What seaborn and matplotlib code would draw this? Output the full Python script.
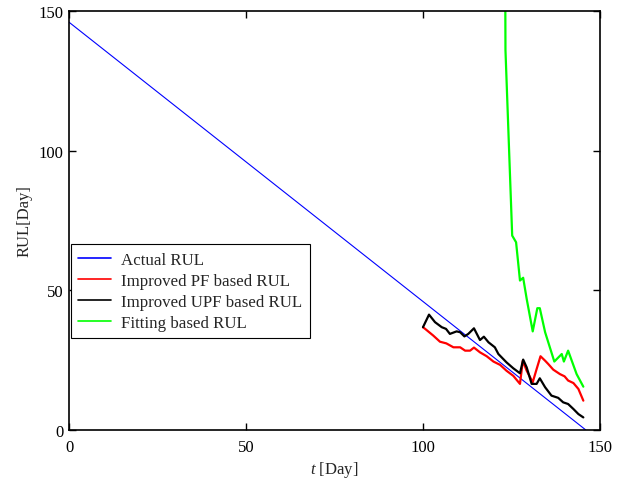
import numpy as np
import pandas as pd
import matplotlib
matplotlib.use('Agg')
import matplotlib.pyplot as plt
import seaborn as sns

sns.set_style('white')
plt.rcParams['font.family'] = ['Liberation Serif', 'DejaVu Serif']
plt.rcParams['mathtext.fontset'] = 'custom'
plt.rcParams['mathtext.it'] = 'Liberation Serif:italic'
plt.rcParams['mathtext.rm'] = 'Liberation Serif'

# actual RUL (straight line)
actual_t = [0, 146]
actual_rul = [146, 0]

# improved PF
pf_t = [100, 100.6, 102.9, 104.8, 106.6, 108.6, 110.5, 111.9, 113.3, 114.4, 116.1, 118, 119.9,
        121.8, 123.6, 125.5, 127.4, 128.2, 129.3, 131, 132.1, 133.2, 134.5, 135.4, 136.8, 138.7,
        140, 141, 142.5, 143.9, 145.3]
pf_rul = [36.8, 36.2, 33.8, 31.6, 31.0, 29.6, 29.6, 28.4, 28.4, 29.5, 27.8, 26.4, 24.5,
          23.3, 21.2, 19.4, 16.5, 24.8, 21.2, 17.1, 21.8, 26.4, 24.8, 23.6, 21.6, 20.0,
          19.2, 17.7, 16.8, 14.7, 10.5]

# improved UPF
upf_t = [100, 101.7, 103.4, 105.3, 106.5, 107.6, 109.5, 110.5, 111.7, 112.8, 114.4, 116.1, 117.2,
         118.5, 120.3, 121.3, 123.6, 125.5, 127.4, 128.3, 129.3, 130.7, 132.1, 133, 134.5, 136.3,
         138.2, 139.6, 141, 142.5, 143.9, 145.3]
upf_rul = [36.8, 41.3, 38.6, 36.8, 36.2, 34.4, 35.3, 35.0, 33.5, 34.4, 36.4, 32.2, 33.4,
           31.4, 29.6, 27.2, 24.2, 22.1, 20.3, 25.2, 22.4, 16.5, 16.5, 18.5, 15.3, 12.3,
           11.5, 9.9, 9.3, 7.5, 5.7, 4.5]

# fitting based
fit_t = [123.2, 123.3, 125.2, 126.3, 127.4, 128.3, 129.3, 131, 132.3, 133, 134.5, 137.1,
         139.2, 139.8, 141, 143.4, 145.3]
fit_rul = [175, 136, 69.6, 67.2, 53.5, 54.5, 46.9, 35.3, 43.6, 43.6, 35, 24.5,
           27.2, 24.5, 28.4, 20, 15.5]

fig = plt.figure(figsize=(6.24, 4.81), dpi=100)
ax = fig.add_axes([0.1106, 0.104, 0.8509, 0.871])

sns.lineplot(x=actual_t, y=actual_rul, color='#0000ff', linewidth=0.8, label='Actual RUL', ax=ax)
sns.lineplot(x=pf_t, y=pf_rul, color='#ff0000', linewidth=1.6, label='Improved PF based RUL',
             sort=False, ax=ax)
sns.lineplot(x=upf_t, y=upf_rul, color='black', linewidth=1.6, label='Improved UPF based RUL',
             sort=False, ax=ax)
sns.lineplot(x=fit_t, y=fit_rul, color='#00ff00', linewidth=1.6, label='Fitting based RUL',
             sort=False, ax=ax)

ax.set_xlim(0, 150)
ax.set_ylim(0, 150)
ax.set_xticks([0, 50, 100, 150])
ax.set_yticks([0, 50, 100, 150])
ax.tick_params(direction='in', length=5, width=1, labelsize=12, top=True, right=True,
               bottom=True, left=True, colors='black')
ax.tick_params(axis='x', pad=6.5)
ax.tick_params(axis='y', pad=4)
for s in ax.spines.values():
    s.set_linewidth(1.2)
    s.set_color('black')
    s.set_visible(True)

ax.set_xlabel('$t$ [Day]', fontsize=12, labelpad=3)
ax.set_ylabel('RUL[Day]', fontsize=12, labelpad=4)

leg = ax.legend(loc='upper left', bbox_to_anchor=(0.003, 0.444), borderaxespad=0,
                fontsize=12.2, frameon=True, fancybox=False, handlelength=1.95,
                handletextpad=0.6, labelspacing=0.3, borderpad=0.45)
leg.get_frame().set_edgecolor('black')
leg.get_frame().set_linewidth(0.8)
leg.get_frame().set_alpha(1)
for line in leg.get_lines():
    line.set_linewidth(1.2)

fig.savefig('out.png', dpi=100)
